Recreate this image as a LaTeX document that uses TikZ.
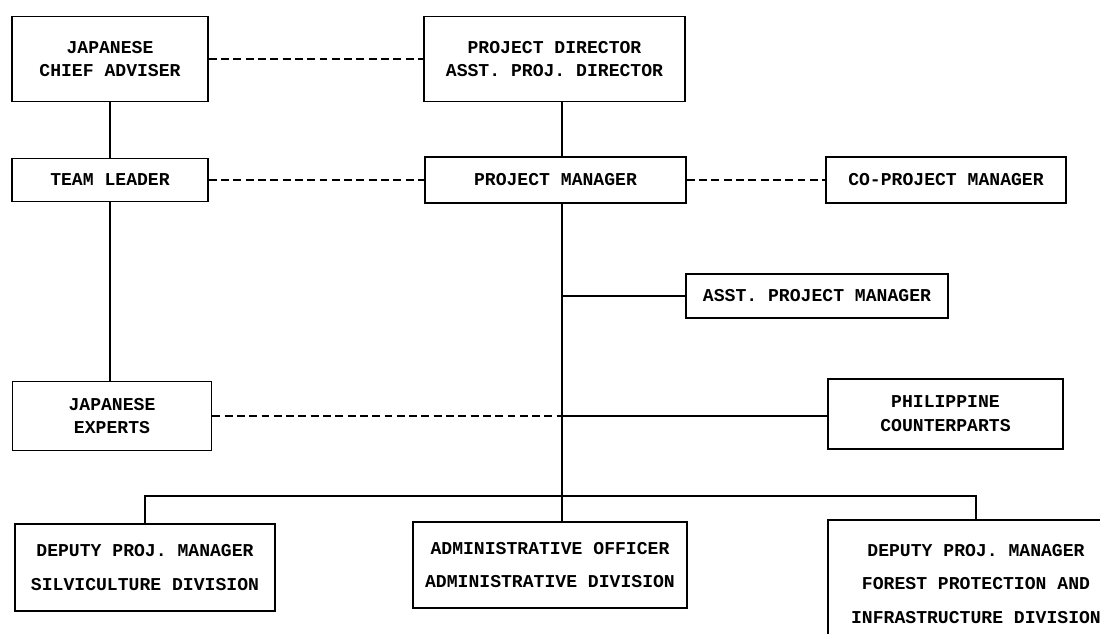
\documentclass[tikz,border=0pt]{standalone}
\usepackage{fontspec}
\usepackage{tikz}
\newfontfamily\typefont{Liberation Mono}

\tikzset{
  unit/.style={draw, line width=1pt, inner sep=0pt, align=center,
    font=\typefont\bfseries\fontsize{10.3}{13.6}\selectfont},
  division/.style={unit, font=\typefont\bfseries\fontsize{10.3}{19}\selectfont},
  link/.style={line width=1pt},
  liaison/.style={line width=1pt, dash pattern=on 4.5pt off 2.5pt}
}

\begin{document}
\begin{tikzpicture} [x=0.02cm, y=-0.02cm]

\clip (0,0) rectangle (1100,634);

\node [unit, minimum width=3.92cm, minimum height=1.7cm] (chief) at (110,59) {JAPANESE\\CHIEF ADVISER};
\node [unit, minimum width=5.22cm, minimum height=1.7cm] (director) at (554.5,59) {PROJECT DIRECTOR\\ASST. PROJ. DIRECTOR};
\node [unit, minimum width=3.92cm, minimum height=0.86cm] (leader) at (110,180) {TEAM LEADER};
\node [unit, minimum width=5.22cm, minimum height=0.92cm] (manager) at (555.5,180) {PROJECT MANAGER};
\node [unit, minimum width=4.8cm, minimum height=0.92cm] (comanager) at (946,180) {CO-PROJECT MANAGER};
\node [unit, minimum width=5.24cm, minimum height=0.88cm] (asstmanager) at (817,296) {ASST. PROJECT MANAGER};
\node [unit, minimum width=3.98cm, minimum height=1.38cm] (experts) at (112,416) {JAPANESE\\EXPERTS};
\node [unit, minimum width=4.7cm, minimum height=1.4cm] (counterparts) at (945.5,414) {PHILIPPINE\\COUNTERPARTS};
\node [division, minimum width=5.2cm, minimum height=1.74cm] (silviculture) at (145,567.5) {DEPUTY PROJ. MANAGER\\SILVICULTURE DIVISION};
\node [division, minimum width=5.48cm, minimum height=1.72cm] (admin) at (550,565) {ADMINISTRATIVE OFFICER\\ADMINISTRATIVE DIVISION};
\node [division, minimum width=5.92cm, minimum height=2.56cm] (forest) at (976,584) {DEPUTY PROJ. MANAGER\\FOREST PROTECTION AND\\INFRASTRUCTURE DIVISION};

\coordinate (bus) at (562,496);

\draw [liaison] (chief) -- (director);
\draw [liaison] (leader) -- (manager);
\draw [liaison] (manager) -- (comanager);
\draw [liaison] (experts.east) -- (experts.east -| bus);

\draw [link] (chief) -- (leader);
\draw [link] (leader.south) -- (leader.south |- experts.north);
\draw [link] (director.south -| bus) -- (manager.north -| bus);
\draw [link] (manager.south -| bus) -- (admin.north -| bus);
\draw [link] (asstmanager.west -| bus) -- (asstmanager);
\draw [link] (experts.east -| bus) -- (experts.east -| counterparts.west);
\draw [link] (silviculture.north) |- (bus) -| (forest.north);
\end{tikzpicture}
\end{document}
